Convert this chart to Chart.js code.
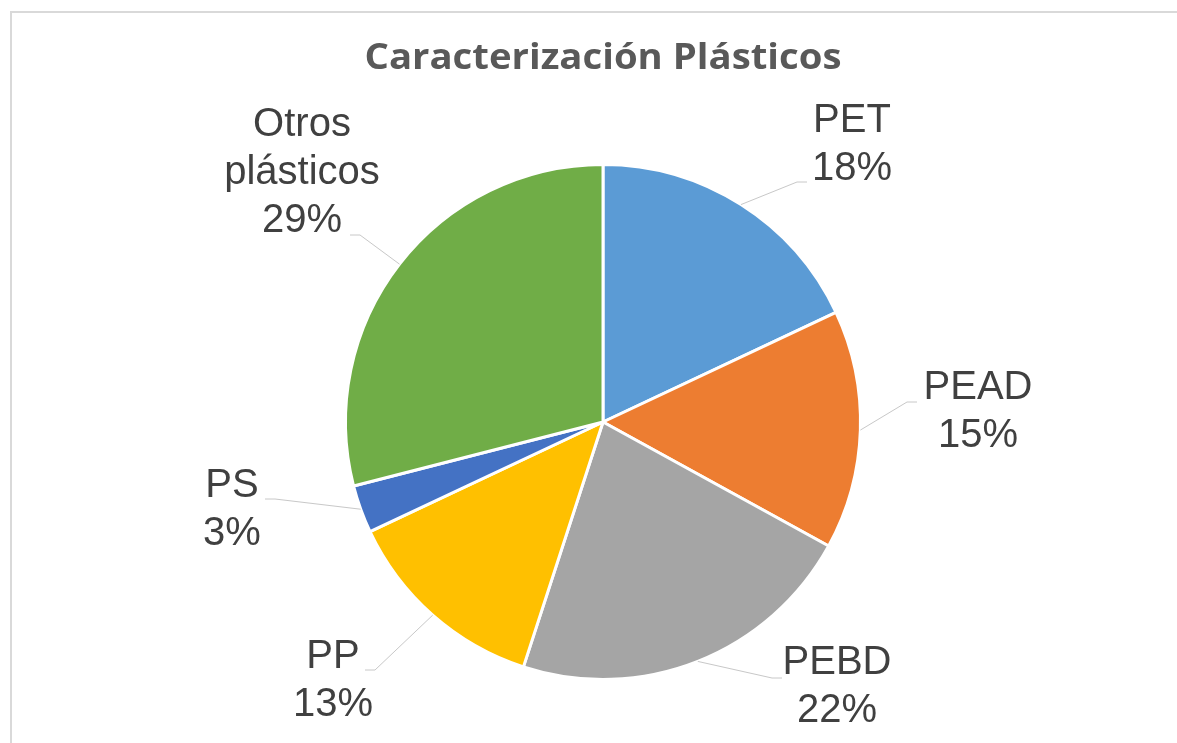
<!DOCTYPE html>
<html>
<head>
<meta charset="utf-8">
<title>Caracterización Plásticos</title>
<script src="https://cdn.jsdelivr.net/npm/chart.js@4.4.1/dist/chart.umd.min.js"></script>
<style>
    html, body { margin: 0; padding: 0; background: #ffffff; }
    #wrap { width: 1177px; height: 743px; }
</style>
</head>
<body>
<div id="wrap"><canvas id="pieChart" width="1177" height="743"></canvas></div>
<script>
// data
const categories = ["PET", "PEAD", "PEBD", "PP", "PS", "Otros plásticos"];
const percents = [18, 15, 22, 13, 3, 29];
const labelLines = [["PET"], ["PEAD"], ["PEBD"], ["PP"], ["PS"], ["Otros", "plásticos"]];
const sliceColors = ["#5B9BD5", "#ED7D31", "#A5A5A5", "#FFC000", "#4472C4", "#70AD47"];
const chartTitle = "Caracterización Plásticos";

// where the labels sit, as offsets from the pie centre (layout only)
const labelOffsets = [[249, -277], [375, -10], [234, 265], [-270, 259], [-371, 88], [-301, -249]];
const elbowOffsets = [[194, -240], [304, -20], [169, 256], [-228, 248], [-328, 77], [-243, -187]];

const frameAndLabels = {
    id: "frameAndLabels",
    beforeDraw(chart) {
        const c = chart.ctx;
        c.save();
        c.fillStyle = "#ffffff";
        c.fillRect(0, 0, chart.width, chart.height);
        c.strokeStyle = "#d9d9d9";
        c.lineWidth = 2;
        c.beginPath();
        c.moveTo(11, chart.height + 5);
        c.lineTo(11, 12);
        c.lineTo(chart.width + 5, 12);
        c.stroke();
        c.restore();
    },
    afterDraw(chart) {
        const c = chart.ctx;
        const meta = chart.getDatasetMeta(0);
        c.save();

        // title, fitted to the width it has in the picture
        c.fillStyle = "#595959";
        c.font = "bold 36px 'Open Sans'";
        c.textAlign = "center";
        c.textBaseline = "middle";
        const w = c.measureText(chartTitle).width;
        c.save();
        c.translate(603, 59);
        c.scale(477 / w, 1);
        c.fillText(chartTitle, 0, 0);
        c.restore();

        meta.data.forEach((arc, i) => {
            const p = arc.getProps(["x", "y", "startAngle", "endAngle", "outerRadius"], true);
            const mid = (p.startAngle + p.endAngle) / 2;
            const sx = p.x + Math.cos(mid) * p.outerRadius;
            const sy = p.y + Math.sin(mid) * p.outerRadius;
            const ex = p.x + elbowOffsets[i][0];
            const ey = p.y + elbowOffsets[i][1];
            const lx = p.x + labelOffsets[i][0];
            const dir = lx > ex ? 1 : -1;

            // leader line
            c.strokeStyle = "#c8c8c8";
            c.lineWidth = 1;
            c.beginPath();
            c.moveTo(sx, sy);
            c.lineTo(ex, ey);
            c.lineTo(ex + dir * 10, ey);
            c.stroke();

            // label text
            const lines = labelLines[i].concat([percents[i] + "%"]);
            const lineH = 48;
            const ly = p.y + labelOffsets[i][1] - (lines.length - 1) * lineH / 2;
            c.fillStyle = "#404040";
            c.font = "40px 'Liberation Sans', Arial, sans-serif";
            c.textAlign = "center";
            c.textBaseline = "middle";
            lines.forEach((t, k) => c.fillText(t, lx, ly + k * lineH));
        });
        c.restore();
    }
};

const ctx = document.getElementById("pieChart").getContext("2d");
const chart = new Chart(ctx, {
    type: "pie",
    data: {
        labels: categories,
        datasets: [{
            data: percents,
            backgroundColor: sliceColors,
            borderColor: "#ffffff",
            borderWidth: 3
        }]
    },
    options: {
        responsive: false,
        animation: false,
        layout: {
            padding: { top: 163, bottom: 62, left: 303, right: 274 }
        },
        plugins: {
            legend: { display: false },
            title: { display: false },
            tooltip: { enabled: false }
        }
    },
    plugins: [frameAndLabels]
});
</script>
</body>
</html>
